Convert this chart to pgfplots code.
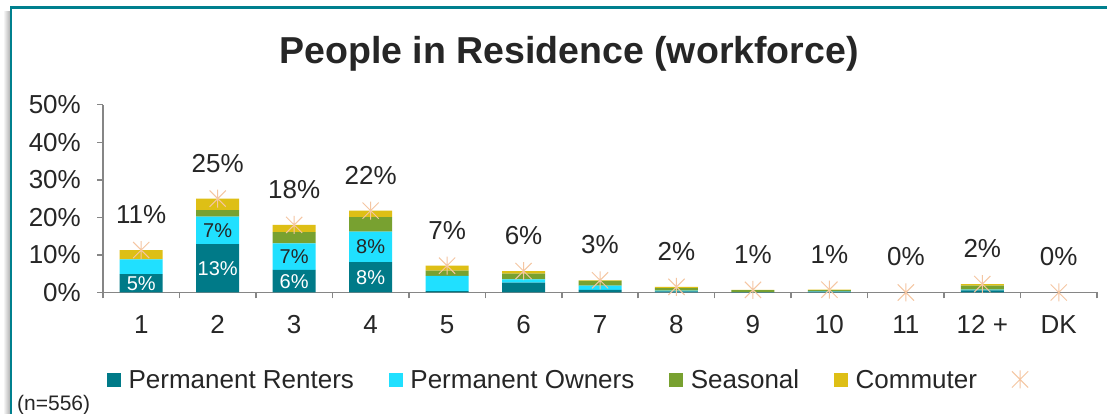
\documentclass[border=0pt]{standalone}
\usepackage{fontspec}
\setmainfont{Liberation Sans}
\usepackage{pgfplots}
\usepackage{pgfplotstable}
\pgfplotsset{compat=1.18}
\definecolor{renters}{RGB}{0,122,136}
\definecolor{owners}{RGB}{32,224,255}
\definecolor{seasonal}{RGB}{120,161,48}
\definecolor{commuter}{RGB}{222,191,22}
\definecolor{starc}{RGB}{245,198,162}
\definecolor{framec}{RGB}{0,128,142}
\definecolor{axisgray}{RGB}{134,134,134}
\definecolor{txt}{RGB}{38,38,38}

\pgfdeclareplotmark{xstar}{%
 \pgfpathmoveto{\pgfqpoint{0pt}{\pgfplotmarksize}}%
 \pgfpathlineto{\pgfqpoint{0pt}{-\pgfplotmarksize}}%
 \pgfpathmoveto{\pgfqpoint{-0.9\pgfplotmarksize}{-0.9\pgfplotmarksize}}%
 \pgfpathlineto{\pgfqpoint{0.9\pgfplotmarksize}{0.9\pgfplotmarksize}}%
 \pgfpathmoveto{\pgfqpoint{-0.9\pgfplotmarksize}{0.9\pgfplotmarksize}}%
 \pgfpathlineto{\pgfqpoint{0.9\pgfplotmarksize}{-0.9\pgfplotmarksize}}%
 \pgfusepathqstroke}

\pgfplotstableread{
x R O S C
0 4.9 3.9 0.0 2.5
1 12.9 7.3 1.7 3.1
2 6.0 7.1 3.0 1.9
3 8.1 8.1 3.9 1.7
4 0.35 4.1 1.4 1.3
5 2.6 0.9 1.5 0.7
6 0.7 1.1 1.3 0.15
7 0.3 0.2 0.65 0.35
8 0.1 0.0 0.55 0.05
9 0.2 0.1 0.3 0.15
10 0 0 0 0
11 0.55 0.2 1.05 0.45
12 0 0 0 0
}\segs

\pgfplotsset{
  common/.style={
    at={(103pt,121.5pt)}, anchor=south west,
    scale only axis, width=994pt, height=187.8pt,
    xmin=-0.5, xmax=12.5, ymin=0, ymax=50,
  }
}

\begin{document}
\begin{tikzpicture}
\useasboundingbox (0,0) rectangle (1107pt,414pt);
\fill[white] (0,0) rectangle (1107pt,414pt);
\shade[left color=white, right color=black!30] (3pt,0pt) rectangle (10pt,402pt);
\draw[framec, line width=2.5pt] (11pt,0pt) -- (11pt,406.5pt) -- (1107pt,406.5pt);

\node[anchor=base, font=\fontsize{37.5}{42}\selectfont\bfseries, text=txt] at (569pt,350pt) {People in Residence (workforce)};
\node[anchor=base west, font=\fontsize{21}{24}\selectfont, text=txt, inner sep=0pt] at (17pt,3.5pt) {(n=556)};

\begin{axis}[common,
  ybar stacked, bar width=43pt,
  axis lines*=left,
  axis line style={axisgray, line width=1.5pt},
  xtick={-0.5,0.5,...,12.5}, xticklabels={},
  extra x ticks={0,1,...,12},
  extra x tick labels={1,2,3,4,5,6,7,8,9,10,11,12 +,DK},
  extra x tick style={major tick length=0pt, tick label style={anchor=base, yshift=-41pt}},
  ytick={0,10,...,50},
  yticklabels={0\%,10\%,20\%,30\%,40\%,50\%},
  tick align=outside, major tick length=6pt,
  tick style={axisgray, line width=1.5pt},
  tick label style={font=\fontsize{26}{30}\selectfont, text=txt},
  yticklabel style={anchor=east, inner sep=0pt, xshift=-16pt},
]
\addplot[fill=renters, draw=none] table[x=x, y=R] {\segs};
\addplot[fill=owners, draw=none] table[x=x, y=O] {\segs};
\addplot[fill=seasonal, draw=none] table[x=x, y=S] {\segs};
\addplot[fill=commuter, draw=none] table[x=x, y=C] {\segs};
\end{axis}

\begin{axis}[common, hide axis, clip=false,
  legend style={at={(axis description cs:0.004,-0.463)}, anchor=west,
    draw=none, fill=none, inner sep=0pt, legend columns=-1,
    font=\fontsize{26}{30}\selectfont, text=txt,
    nodes={inner sep=0pt, text height=18.6pt, text depth=0pt},
    /tikz/every odd column/.append style={column sep=8pt},
    /tikz/every even column/.append style={column sep=35pt}},
  legend cell align=left,
]
\addlegendimage{legend image code/.code={\fill[renters] (0pt,-6.5pt) rectangle (13pt,6.5pt);}}
\addlegendentry{Permanent Renters}
\addlegendimage{legend image code/.code={\fill[owners] (0pt,-6.5pt) rectangle (13pt,6.5pt);}}
\addlegendentry{Permanent Owners}
\addlegendimage{legend image code/.code={\fill[seasonal] (0pt,-6.5pt) rectangle (13pt,6.5pt);}}
\addlegendentry{Seasonal}
\addlegendimage{legend image code/.code={\fill[commuter] (0pt,-6.5pt) rectangle (13pt,6.5pt);}}
\addlegendentry{Commuter}
\addplot[only marks, mark=xstar, mark size=9pt,
  mark options={draw=starc, line width=1pt},
  nodes near coords={\pgfplotspointmeta\%}, point meta=explicit symbolic,
  nodes near coords style={anchor=center, yshift=35.5pt, inner sep=0pt,
    font=\fontsize{26}{30}\selectfont, text=txt}]
  coordinates {(0,11.3) [11] (1,25.0) [25] (2,18.0) [18] (3,21.8) [22]
    (4,7.15) [7] (5,5.7) [6] (6,3.25) [3] (7,1.5) [2] (8,0.7) [1]
    (9,0.75) [1] (10,0) [0] (11,2.25) [2] (12,0) [0]};
\addlegendentry{\strut}
\addplot[forget plot, only marks, mark=*, mark size=0.01pt,
  mark options={draw=none, fill=none},
  nodes near coords={\pgfplotspointmeta\%}, point meta=explicit symbolic,
  nodes near coords style={anchor=center, inner sep=0pt,
    font=\fontsize{20}{24}\selectfont, text=white}]
  coordinates {(0,2.45) [5] (1,6.45) [13] (2,3.0) [6] (3,4.05) [8]};
\addplot[forget plot, only marks, mark=*, mark size=0.01pt,
  mark options={draw=none, fill=none},
  nodes near coords={\pgfplotspointmeta\%}, point meta=explicit symbolic,
  nodes near coords style={anchor=center, inner sep=0pt,
    font=\fontsize{20}{24}\selectfont, text=txt}]
  coordinates {(1,16.55) [7] (2,9.55) [7] (3,12.15) [8]};
\end{axis}
\end{tikzpicture}
\end{document}
